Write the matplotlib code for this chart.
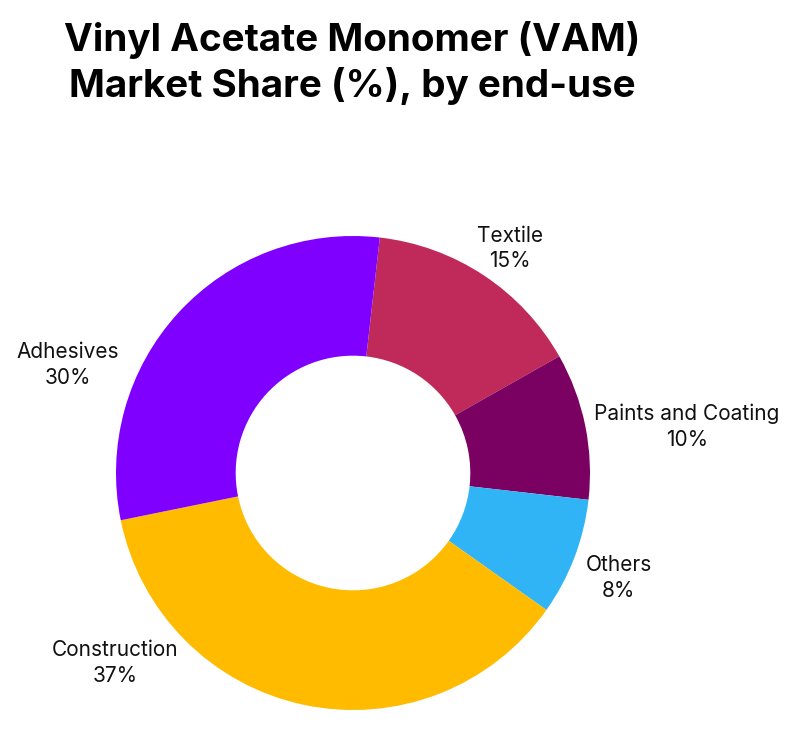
import numpy as np
import matplotlib as mpl
import matplotlib.pyplot as plt

mpl.use("Agg")

###############################################################################

segments = ["Textile", "Paints and Coating", "Others", "Construction", "Adhesives"]
shares = [15, 10, 8, 37, 30]
colors = ["#BF2A5A", "#7A0062", "#30B4F5", "#FFBB00", "#7F00FF"]

###############################################################################

plt.rcParams["font.family"] = ["Inter", "DejaVu Sans"]

fig = plt.figure(figsize=(8.07, 7.40), dpi=100)

# pie axes: centre ~ (353, 473) px, radius ~ 237 px
r_px = 237
cx, cy = 353, 473
ax = fig.add_axes([(cx - r_px) / 807, (740 - cy - r_px) / 740, 2 * r_px / 807, 2 * r_px / 740])

wedges, _ = ax.pie(
    shares,
    colors=colors,
    startangle=83.5,
    counterclock=False,
    radius=1.0,
    wedgeprops=dict(width=0.505, linewidth=0),
)
ax.set_xlim(-1, 1)
ax.set_ylim(-1, 1)
ax.set_aspect("equal")
ax.axis("off")

# label anchors, in radius units
label_pos = [
    (0.662, 0.947),
    (1.409, 0.194),
    (1.122, -0.443),
    (-1.004, -0.802),
    (-1.203, 0.456),
]

for name, val, (lx, ly) in zip(segments, shares, label_pos):
    ax.text(
        lx,
        ly,
        "%s\n%d%%" % (name, val),
        ha="center",
        va="center",
        fontsize=15,
        linespacing=1.36,
        color="#111111",
        clip_on=False,
    )

fig.text(
    352 / 807,
    1 - 63 / 740,
    "Vinyl Acetate Monomer (VAM)\nMarket Share (%), by end-use",
    ha="center",
    va="center",
    fontsize=27.8,
    fontweight="bold",
    linespacing=1.25,
    color="#000000",
)

plt.savefig("out.png", dpi=100)
plt.close()
